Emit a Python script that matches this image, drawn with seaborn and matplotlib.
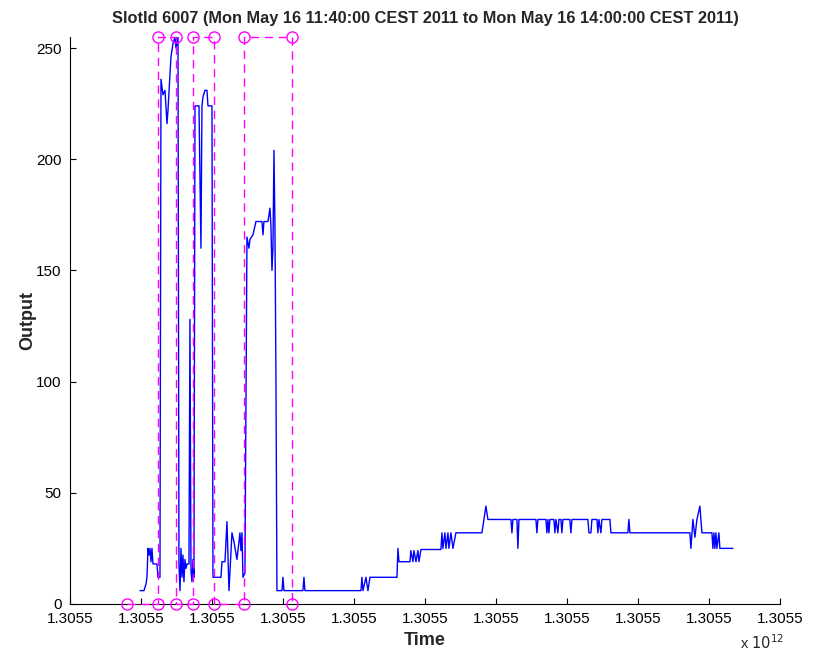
import matplotlib
matplotlib.use("Agg")
import matplotlib.pyplot as plt
import seaborn as sns
import pandas as pd
from matplotlib.ticker import FixedLocator, FuncFormatter

# window start: Mon May 16 11:40:00 CEST 2011, in epoch milliseconds
t_start = 1305538800000

# output trace, time in minutes after 11:40
minutes = [3.09, 4.03, 4.50, 4.73, 4.97, 5.20, 5.44, 5.67, 5.90, 6.14, 7.08, 7.31, 7.78,
           8.02, 8.49, 8.96, 9.43, 9.66, 10.13, 10.36, 10.83, 11.30, 11.54, 12.01, 12.24,
           12.48, 12.71, 12.95, 13.18, 13.41, 13.65, 13.88, 14.12, 14.59, 14.82, 15.06,
           15.29, 15.53, 15.76, 16.00, 16.94, 17.40, 17.64, 17.87, 18.34, 18.81, 19.05,
           19.99, 20.22, 22.10, 22.33, 23.04, 23.51, 23.98, 24.68, 25.15, 25.85, 26.56,
           26.79, 27.03, 27.26, 27.73, 28.20, 28.67, 28.91, 29.61, 30.08, 30.31, 31.72,
           31.96, 32.19, 33.13, 33.60, 33.83, 34.07, 34.30, 34.54, 34.77, 35.01, 35.24,
           36.42, 36.65, 36.88, 41.34, 41.58, 41.81, 54.96, 55.19, 55.43, 56.13, 56.60,
           57.07, 63.41, 63.64, 63.88, 66.46, 66.69, 67.16, 67.40, 67.87, 68.33, 68.57,
           69.04, 73.73, 73.97, 74.20, 74.67, 74.91, 75.38, 75.61, 76.08, 76.55, 77.25,
           83.36, 83.82, 84.29, 84.76, 90.16, 90.40, 90.63, 91.57, 91.80, 92.04, 96.03,
           96.26, 96.50, 98.38, 98.61, 98.85, 99.08, 99.32, 100.25, 100.49, 100.72,
           101.19, 101.43, 101.90, 102.13, 102.37, 103.99, 104.24, 104.48, 108.23,
           108.47, 108.94, 109.17, 110.35, 110.58, 110.82, 111.28, 111.52, 113.40,
           113.63, 117.62, 117.86, 118.09, 132.17, 132.41, 132.88, 133.35, 133.82,
           134.52, 134.99, 137.34, 137.57, 137.81, 138.04, 138.28, 138.51, 138.98,
           139.21, 142.27]
output = [6, 6, 9, 12, 25, 22, 25, 19, 25, 18, 18, 12, 12,
          236, 229, 231, 216, 222, 238, 246, 252, 255, 250, 255, 18,
          6, 25, 12, 22, 10, 20, 16, 18, 18, 128, 15,
          10, 20, 12, 224, 224, 160, 224, 228, 231, 231, 224,
          224, 12, 12, 19, 19, 37, 6, 32, 28, 20, 32,
          24, 32, 12, 14, 165, 160, 164, 166, 170, 172, 172,
          166, 172, 172, 178, 170, 150, 160, 204, 170, 100, 6,
          6, 12, 6, 6, 12, 6, 6, 12, 6, 12, 6,
          12, 12, 25, 19, 19, 24, 19, 24, 19, 24, 19,
          24.5, 24.5, 32, 25, 32, 25, 32, 25, 32, 25, 32,
          32, 38, 44, 38, 38, 32, 38, 38, 25, 38, 38,
          32, 38, 38, 32, 38, 32, 38, 38, 32, 38,
          32, 38, 38, 32, 38, 38, 32, 38, 38,
          32, 32, 38, 38, 32, 38, 32, 38, 38,
          32, 32, 38, 32, 32, 25, 38, 30, 38,
          44, 32, 32, 25, 32, 25, 32, 25, 32,
          25, 25]

# selected intervals (magenta outline), minutes after 11:40
sel_minutes = [0.0, 7.31, 7.31, 11.54, 11.54, 15.53, 15.53, 20.52, 20.52, 27.50, 27.50, 38.76, 38.76]
sel_output = [0, 0, 255, 255, 0, 0, 255, 255, 0, 0, 255, 255, 0]

x_ticks = [1305538000000 + i * 1000000 for i in range(11)]

df = pd.DataFrame({"Time": [t_start + m * 60000 for m in minutes], "Output": output})
sel = pd.DataFrame({"Time": [t_start + m * 60000 for m in sel_minutes], "Output": sel_output})

sns.set_style("white")
plt.rcParams["font.family"] = ["Liberation Sans", "DejaVu Sans"]

fig = plt.figure(figsize=(8.18, 6.54), dpi=100)
ax = fig.add_axes([0.0856, 0.0765, 0.868, 0.867])

sns.lineplot(data=df, x="Time", y="Output", color="#0000ff", linewidth=1.0,
             estimator=None, sort=False, ax=ax)
sns.lineplot(data=sel, x="Time", y="Output", color="#ff00ff", linewidth=1.0,
             estimator=None, sort=False, ax=ax, dashes=False, linestyle=(0, (6, 4)),
             marker="o", markersize=8, markerfacecolor="none", markeredgecolor="#ff00ff",
             markeredgewidth=1.0, clip_on=False, zorder=5)

ax.set_xlim(x_ticks[0], x_ticks[-1])
ax.set_ylim(0, 255)
ax.xaxis.set_major_locator(FixedLocator(x_ticks))
ax.xaxis.set_major_formatter(FuncFormatter(lambda v, p: f"{v / 1e12:.4f}"))
ax.set_yticks([0, 50, 100, 150, 200, 250])

sns.despine(ax=ax)
for s in ["left", "bottom"]:
    ax.spines[s].set_color("black")
    ax.spines[s].set_linewidth(0.8)
ax.tick_params(direction="in", length=4, width=0.8, colors="black", labelsize=11,
               bottom=True, left=True)
ax.tick_params(axis="x", pad=6)
ax.tick_params(axis="y", pad=6)

ax.set_title("SlotId 6007 (Mon May 16 11:40:00 CEST 2011 to Mon May 16 14:00:00 CEST 2011)",
             fontsize=11.8, fontweight="bold", pad=10)
ax.set_xlabel("Time", fontsize=13, fontweight="bold", labelpad=4)
ax.set_ylabel("Output", fontsize=13, fontweight="bold", labelpad=0)

fig.text(0.905, 0.003, r"x $10^{12}$", fontsize=10.5, ha="left", va="bottom")

fig.savefig("out.png", dpi=100)
